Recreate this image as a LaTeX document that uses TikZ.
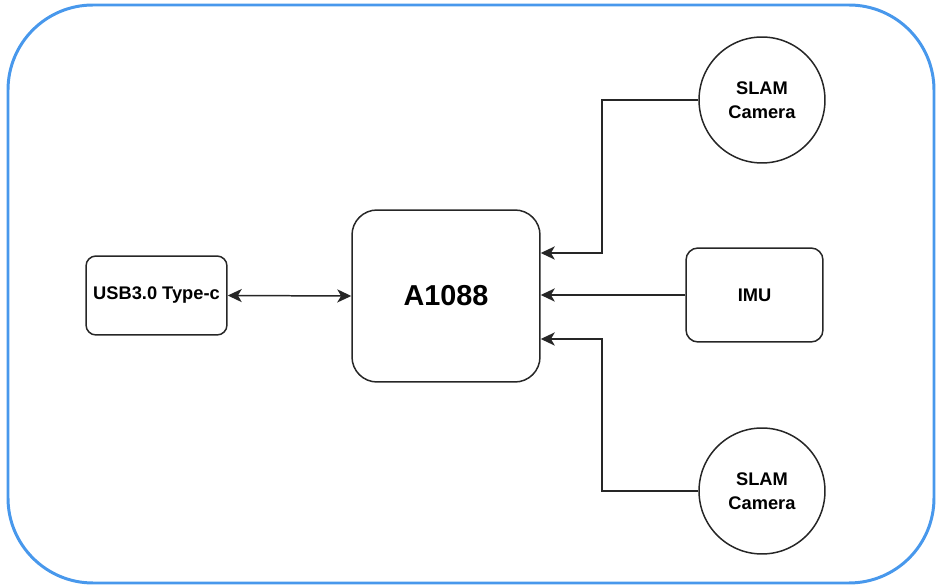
\documentclass[tikz,border=0pt]{standalone}
\usepackage{fontspec}
\setmainfont{Liberation Sans}
\usetikzlibrary{arrows.meta}
\definecolor{frameblue}{RGB}{72,152,236}
\begin{document}
\begin{tikzpicture}[
    x=0.02cm, y=-0.02cm,
    every node/.style={align=center, font=\bfseries\fontsize{10.4}{13.6}\selectfont},
    block/.style={draw=black!85, line width=0.85pt, rounded corners=0.2cm, inner sep=0pt},
    cambox/.style={draw=black!85, line width=0.85pt, circle, minimum size=2.52cm, inner sep=0pt},
    tip/.tip={Stealth[length=8pt,width=7.5pt,inset=2.2pt]},
    link/.style={draw=black!85, line width=0.85pt, -tip},
    both link/.style={draw=black!85, line width=0.85pt, tip-tip},
    ]
\useasboundingbox (0,0) rectangle (941,587);
\draw[frameblue, line width=1.7pt, rounded corners=1.7cm] (8,5) rectangle (934,583);
\node[block, minimum width=2.82cm, minimum height=1.58cm] (usb) at (156.5,295.5) {USB3.0 Type-c};
\node[block, minimum width=3.76cm, minimum height=3.44cm, rounded corners=0.5cm,
      font=\bfseries\fontsize{16.4}{19}\selectfont] (a1088) at (446,296) {A1088};
\node[block, minimum width=2.74cm, minimum height=1.88cm, rounded corners=0.24cm] (imu) at (754.5,295) {IMU};
\node[cambox] (camtop) at (762,100) {SLAM\\Camera};
\node[cambox] (cambot) at (762,491) {SLAM\\Camera};
\draw[both link] (usb.east) -- (a1088.west);
\draw[link] (imu.west) -- (a1088.east |- imu.west);
\draw[link] (camtop.west) -| (602,253) -- (a1088.east |- 602,253);
\draw[link] (cambot.west) -| (602,339) -- (a1088.east |- 602,339);
\end{tikzpicture}
\end{document}
